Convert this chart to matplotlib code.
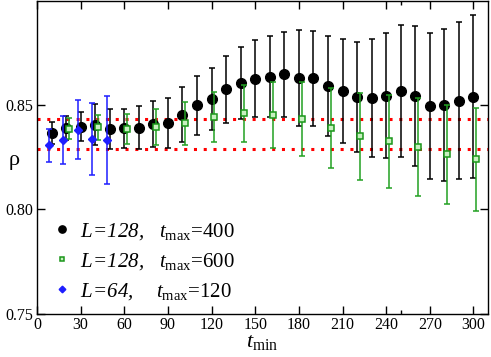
import numpy as np
import matplotlib
matplotlib.use("Agg")
import matplotlib.pyplot as plt
from matplotlib.ticker import FixedLocator

plt.rcParams['font.family'] = ['Liberation Serif', 'DejaVu Serif']
plt.rcParams['mathtext.fontset'] = 'custom'
plt.rcParams['mathtext.rm'] = 'Liberation Serif'
plt.rcParams['mathtext.it'] = 'Liberation Serif:italic'
plt.rcParams['mathtext.sf'] = 'Liberation Serif:italic'

# L=128, tmax=400
t_400 = [10, 20, 30, 40, 50, 60, 70, 80, 90, 100, 110, 120, 130, 140, 150,
         160, 170, 180, 190, 200, 210, 220, 230, 240, 250, 260, 270, 280, 290, 300]
rho_400 = [0.8365, 0.8388, 0.8394, 0.8405, 0.8383, 0.8387, 0.8390, 0.8407, 0.8414, 0.8452,
           0.8497, 0.8526, 0.8573, 0.8602, 0.8624, 0.8634, 0.8645, 0.8629, 0.8625, 0.8590,
           0.8566, 0.8536, 0.8532, 0.8543, 0.8565, 0.8540, 0.8494, 0.8499, 0.8519, 0.8538]
err_400 = [0.0051, 0.0056, 0.0069, 0.0099, 0.0094, 0.0092, 0.0102, 0.0109, 0.0120, 0.0130,
           0.0141, 0.0149, 0.0160, 0.0171, 0.0183, 0.0193, 0.0204, 0.0229, 0.0225, 0.0239,
           0.0248, 0.0263, 0.0281, 0.0299, 0.0317, 0.0334, 0.0350, 0.0362, 0.0376, 0.0390]

# L=128, tmax=600
t_600 = [22, 42, 62, 82, 102, 122, 142, 162, 182, 202, 222, 242, 262, 282, 302]
rho_600 = [0.8384, 0.8392, 0.8384, 0.8392, 0.8411, 0.8440, 0.8459, 0.8452, 0.8432, 0.8387,
           0.8348, 0.8325, 0.8298, 0.8262, 0.8238]
err_600 = [0.0050, 0.0060, 0.0072, 0.0087, 0.0103, 0.0118, 0.0137, 0.0157, 0.0175, 0.0191,
           0.0208, 0.0222, 0.0234, 0.0238, 0.0245]

# L=64, tmax=120
t_120 = [8, 18, 28, 38, 48]
rho_120 = [0.8305, 0.8333, 0.8381, 0.8336, 0.8333]
err_120 = [0.0081, 0.0115, 0.0143, 0.0174, 0.0210]

ref_lines = [0.843, 0.829]

labels = [r"$\mathsf{L\!=\!128,}\ \ \, t_{\mathrm{max}}$=400",
          r"$\mathsf{L\!=\!128,}\ \ \, t_{\mathrm{max}}$=600",
          r"$\mathsf{L\!=\!64,}\ \ \,\enspace t_{\mathrm{max}}$=120"]

fig = plt.figure(figsize=(4.91, 3.57), dpi=100)
ax = fig.add_axes([37/491, 1-314/357, 451/491, 313/357])

for y in ref_lines:
    ax.axhline(y, color='#ff0000', lw=2.2, linestyle=(0, (1, 2.2)),
               dash_capstyle='butt', zorder=1)

eb1 = ax.errorbar(t_400, rho_400, yerr=err_400, fmt='o', color='black',
                  ms=7, capsize=2.3, elinewidth=1.1, capthick=1.1, zorder=2)
eb2 = ax.errorbar(t_600, rho_600, yerr=err_600, fmt='s', color='#22a022',
                  mfc='#c8f0c0', mec='#1a961a', mew=1.1,
                  ms=4.5, capsize=2.3, elinewidth=1.1, capthick=1.1, zorder=3)
eb3 = ax.errorbar(t_120, rho_120, yerr=err_120, fmt='D', color='#1e1eff',
                  ms=4.5, capsize=2.3, elinewidth=1.1, capthick=1.1, zorder=4)

ax.set_xlim(0, 310)
ax.set_ylim(0.75, 0.8995)
ax.set_xticks(np.arange(0, 301, 30))
ax.xaxis.set_minor_locator(FixedLocator([250]))
ax.set_yticks([0.75, 0.80, 0.85])
ax.set_yticklabels(['0.75', '0.80', '0.85'])
ax.tick_params(which='major', direction='in', length=6, width=1, top=True, right=True,
               labelsize=11.5, pad=2.5)
ax.tick_params(which='minor', direction='in', length=3, width=1, top=True)
for s in ax.spines.values():
    s.set_linewidth(1.0)

ax.set_xlabel(r"$t_{\mathrm{min}}$", fontsize=16, labelpad=0)
ax.set_ylabel("ρ", fontsize=16, rotation=0, va='center', ha='center')
ax.yaxis.set_label_coords(-0.05, 0.49)

ax.legend([eb1[0], eb2[0], eb3[0]], labels, loc='upper left',
          bbox_to_anchor=(0.02, 0.325), frameon=False, fontsize=15,
          handlelength=0.7, handletextpad=0.55, labelspacing=0.45, borderaxespad=0,
          markerscale=0.75)

fig.savefig('out.png', dpi=100)
